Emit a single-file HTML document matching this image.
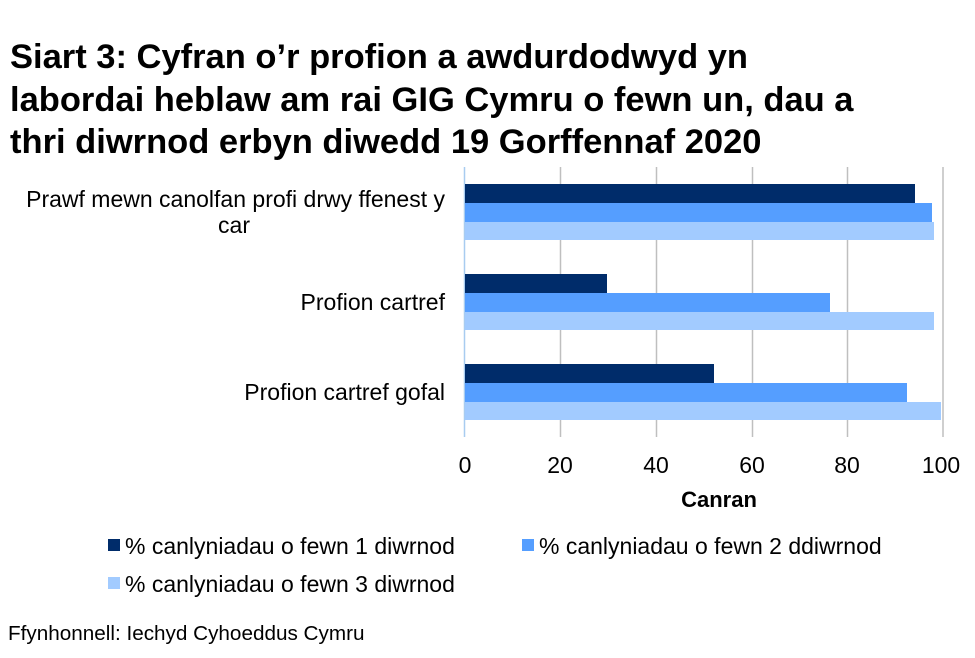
<!DOCTYPE html>
<html><head><meta charset="utf-8"><style>
html,body{margin:0;padding:0;background:#fff;width:975px;height:658px;overflow:hidden;font-family:"Liberation Sans",sans-serif}
</style></head><body>
<svg width="975" height="658" xmlns="http://www.w3.org/2000/svg" font-family="Liberation Sans, sans-serif">
<g font-size="34.5" font-weight="bold" fill="#000">
<text x="10" y="68">Siart 3: Cyfran o’r profion a awdurdodwyd yn</text>
<text x="10" y="111">labordai heblaw am rai GIG Cymru o fewn un, dau a</text>
<text x="10" y="153">thri diwrnod erbyn diwedd 19 Gorffennaf 2020</text>
</g>
<g stroke="#bfbfbf" stroke-width="1.5">
<line x1="560.5" y1="167" x2="560.5" y2="437"/>
<line x1="656.5" y1="167" x2="656.5" y2="437"/>
<line x1="752.5" y1="167" x2="752.5" y2="437"/>
<line x1="847.5" y1="167" x2="847.5" y2="437"/>
<line x1="943" y1="167" x2="943" y2="437"/>
</g>
<line x1="464.5" y1="167" x2="464.5" y2="437" stroke="#a8ccf0" stroke-width="1.5"/>
<rect x="465" y="184" width="450" height="19" fill="#002c6a"/>
<rect x="465" y="203" width="467" height="19" fill="#559eff"/>
<rect x="465" y="222" width="469" height="18" fill="#a2cbff"/>
<rect x="465" y="274" width="142" height="19" fill="#002c6a"/>
<rect x="465" y="293" width="365" height="19" fill="#559eff"/>
<rect x="465" y="312" width="469" height="18" fill="#a2cbff"/>
<rect x="465" y="364" width="249" height="19" fill="#002c6a"/>
<rect x="465" y="383" width="442" height="19" fill="#559eff"/>
<rect x="465" y="402" width="476" height="18" fill="#a2cbff"/>
<g font-size="23" fill="#000" text-anchor="end">
<text x="445" y="207">Prawf mewn canolfan profi drwy ffenest y</text>
<text x="250" y="233">car</text>
<text x="445" y="310">Profion cartref</text>
<text x="445" y="400">Profion cartref gofal</text>
</g>
<g font-size="23" fill="#000" text-anchor="middle">
<text x="465" y="473">0</text>
<text x="560" y="473">20</text>
<text x="656" y="473">40</text>
<text x="752" y="473">60</text>
<text x="847" y="473">80</text>
<text x="941" y="473">100</text>
<text x="719" y="507" font-weight="bold" font-size="22">Canran</text>
</g>
<rect x="108" y="539" width="12" height="12" fill="#002c6a"/>
<rect x="522" y="539" width="12" height="12" fill="#559eff"/>
<rect x="108" y="577" width="12" height="12" fill="#a2cbff"/>
<g font-size="23" fill="#000">
<text x="125" y="554">% canlyniadau o fewn 1 diwrnod</text>
<text x="539" y="554">% canlyniadau o fewn 2 ddiwrnod</text>
<text x="125" y="592">% canlyniadau o fewn 3 diwrnod</text>
<text x="8" y="640" font-size="20.7">Ffynhonnell: Iechyd Cyhoeddus Cymru</text>
</g>
</svg>
</body></html>
